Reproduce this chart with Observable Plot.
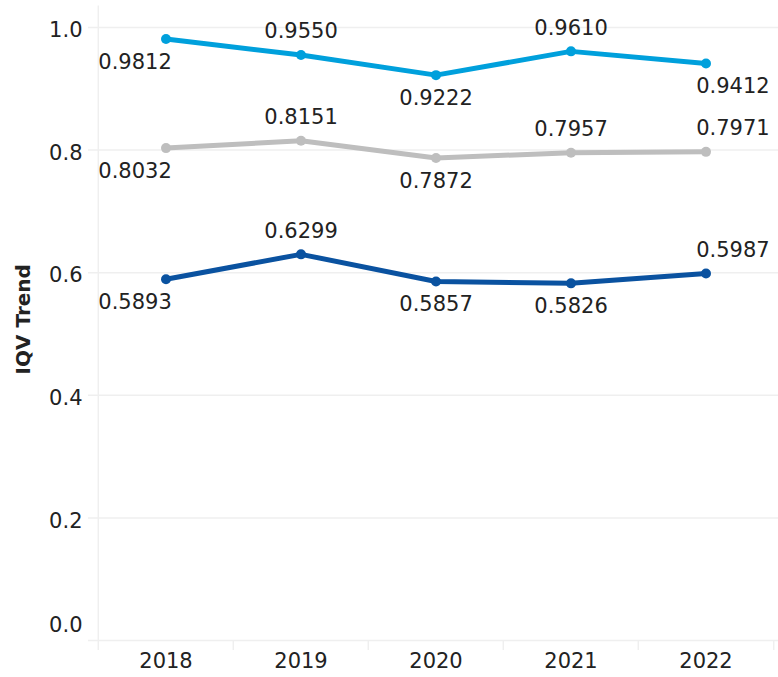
<!DOCTYPE html>
<html><head><meta charset="utf-8">
<script src="https://cdn.jsdelivr.net/npm/d3@7"></script>
<script src="https://cdn.jsdelivr.net/npm/@observablehq/plot@0.6"></script>
<style>body{margin:0;background:#fff;}</style>
</head><body><div id="chart"></div>
<script>
const years = ["2018", "2019", "2020", "2021", "2022"];
const seriesNames = ["High", "Middle", "Low"];
const seriesColors = ["#00a0dc", "#bebebe", "#0a52a0"];
const highValues = [0.9812, 0.9550, 0.9222, 0.9610, 0.9412];
const middleValues = [0.8032, 0.8151, 0.7872, 0.7957, 0.7971];
const lowValues = [0.5893, 0.6299, 0.5857, 0.5826, 0.5987];
const highPlacement = ["below", "above", "below", "above", "below"];
const middlePlacement = ["below", "above", "below", "above", "above"];
const lowPlacement = ["below", "above", "below", "below", "above"];
const yTicks = [0, 0.2, 0.4, 0.6, 0.8, 1.0];

const W = 778, H = 677, ML = 97, MR = 4, MT = 5.5, MB = 37;
const bw = (W - ML - MR) / years.length;

const valueLists = [highValues, middleValues, lowValues];
const placeLists = [highPlacement, middlePlacement, lowPlacement];
const rows = [];
seriesNames.forEach((s, si) => {
  years.forEach((yr, i) => {
    rows.push({series: s, year: yr, value: valueLists[si][i], place: placeLists[si][i], idx: i});
  });
});

const fmt = d3.format(".4f");
const grid = "#efefef";
const last = years.length - 1;

const labelMarks = [];
for (const place of ["above", "below"]) {
  const dy = place === "above" ? -23.5 : 23;
  labelMarks.push(
    Plot.text(rows, {filter: d => d.place === place && d.idx === 0, x: "year", y: "value", text: d => fmt(d.value), dy, dx: -(bw / 2), textAnchor: "start", fill: "#222", lineAnchor: "middle"}),
    Plot.text(rows, {filter: d => d.place === place && d.idx > 0 && d.idx < last, x: "year", y: "value", text: d => fmt(d.value), dy, fill: "#222", lineAnchor: "middle"}),
    Plot.text(rows, {filter: d => d.place === place && d.idx === last, x: "year", y: "value", text: d => fmt(d.value), dy, dx: bw / 2 - 4, textAnchor: "end", fill: "#222", lineAnchor: "middle"})
  );
}

const tickLen = 10 / 613;

const chart = Plot.plot({
  width: W, height: H,
  marginLeft: ML, marginRight: MR, marginTop: MT, marginBottom: MB,
  style: {fontSize: "21px", fontFamily: "DejaVu Sans", color: "#222", background: "#fff"},
  x: {type: "band", domain: years, padding: 0},
  y: {domain: [0, 1.035], ticks: yTicks},
  color: {domain: seriesNames, range: seriesColors},
  marks: [
    Plot.ruleY(yTicks, {stroke: grid, strokeWidth: 1.5, insetLeft: -9, insetRight: -4}),
    Plot.ruleX([years[0]], {x: d => d, dx: -bw / 2, y1: -tickLen, y2: 1.035, stroke: grid, strokeWidth: 1.5}),
    Plot.ruleX(years.slice(1), {x: d => d, dx: -bw / 2, y1: -tickLen, y2: 0, stroke: grid, strokeWidth: 1.5}),
    Plot.ruleX([years[last]], {x: d => d, dx: bw / 2, y1: -tickLen, y2: 0, stroke: grid, strokeWidth: 1.5}),
    Plot.axisY({ticks: yTicks.filter(t => t > 0), tickSize: 0, tickPadding: 15, tickFormat: d3.format(".1f"), label: null, dy: 3}),
    Plot.axisY({ticks: [0], tickSize: 0, tickPadding: 15, tickFormat: d3.format(".1f"), label: null, dy: -15}),
    Plot.axisX({tickSize: 0, tickPadding: 13, label: null}),
    Plot.text(["IQV Trend"], {frameAnchor: "left", textAnchor: "middle", dx: -74, dy: -4, rotate: -90, fontWeight: "bold", fontSize: 20, fill: "#222"}),
    Plot.line(rows, {x: "year", y: "value", z: "series", stroke: "series", strokeWidth: 5}),
    Plot.dot(rows, {x: "year", y: "value", fill: "series", r: 5}),
    ...labelMarks
  ]
});
document.getElementById("chart").appendChild(chart);
</script>
</body></html>
